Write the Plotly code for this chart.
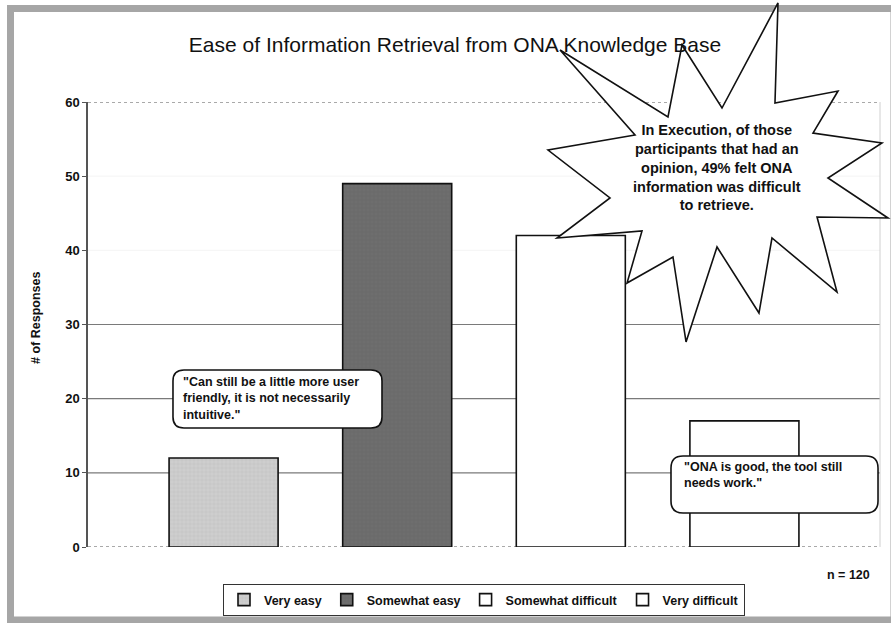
import plotly.graph_objects as go

# chart values
categories = ["Very easy", "Somewhat easy", "Somewhat difficult", "Very difficult"]
responses = [12, 49, 42, 17]
bar_colors = ["#cecece", "#6e6e6e", "#ffffff", "#ffffff"]
pattern_colors = ["#b4b4b4", "#5c5c5c", "#ffffff", "#ffffff"]
y_ticks = [0, 10, 20, 30, 40, 50, 60]
solid_grid = [10, 20, 30]
faint_grid = [40, 50]
dotted_lines = [0, 60]

title_text = "Ease of Information Retrieval from ONA Knowledge Base"
y_title = "# of Responses"
star_text = ("In Execution, of those<br>participants that had an<br>"
             "opinion, 49% felt ONA<br>information was difficult<br>to retrieve.")
quote_1 = "\"Can still be a little more user<br>friendly, it is not necessarily<br>intuitive.\""
quote_2 = "\"ONA is good, the tool still<br>needs work.\""
sample_note = "n = 120"

W, H = 891, 623
L, R, T, B = 88, 880, 102, 547  # plot area edges in pixels
FONT = "Arial, Liberation Sans, sans-serif"


def px(x):
    return (x - L) / (R - L)


def py(y):
    return (B - y) / (B - T)


def poly_path(points):
    parts = [f"{px(x):.4f},{py(y):.4f}" for x, y in points]
    return "M " + " L ".join(parts) + " Z"


def rounded_box(x0, y0, x1, y1, r):
    p = lambda x, y: f"{px(x):.4f},{py(y):.4f}"
    return (f"M {p(x0 + r, y0)} L {p(x1 - r, y0)} Q {p(x1, y0)} {p(x1, y0 + r)} "
            f"L {p(x1, y1 - r)} Q {p(x1, y1)} {p(x1 - r, y1)} "
            f"L {p(x0 + r, y1)} Q {p(x0, y1)} {p(x0, y1 - r)} "
            f"L {p(x0, y0 + r)} Q {p(x0, y0)} {p(x0 + r, y0)} Z")


# explosion callout outline (pixels)
star = [(778, 3), (775, 103), (838, 91), (813, 133), (882, 143), (828, 178),
        (888, 218), (817, 217), (837, 292), (772, 238), (759, 313), (717, 247),
        (686, 342), (673, 257), (627, 283), (642, 231), (557, 238), (610, 198),
        (548, 150), (635, 135), (560, 50), (668, 117), (682, 45), (722, 108)]

fig = go.Figure()
for i, (name, val) in enumerate(zip(categories, responses)):
    fig.add_trace(go.Bar(
        x=[i], y=[val], name=name, width=0.628,
        marker=dict(color=bar_colors[i],
                    line=dict(color="#111111", width=1.6),
                    pattern=dict(shape="+" if i < 2 else "", fgcolor=pattern_colors[i],
                                 bgcolor=bar_colors[i], size=4, solidity=0.25)),
    ))

shapes = []
# outer gray frame of the slide
shapes.append(dict(type="rect", xref="paper", yref="paper",
                   x0=px(10.5), x1=px(894), y0=py(8.5), y1=py(620),
                   line=dict(color="#a6a6a6", width=7), layer="below"))
for g in solid_grid:
    shapes.append(dict(type="line", xref="paper", yref="y", x0=0, x1=1, y0=g, y1=g,
                       line=dict(color="#7a7a7a", width=1.2), layer="below"))
for g in faint_grid:
    shapes.append(dict(type="line", xref="paper", yref="y", x0=0, x1=1, y0=g, y1=g,
                       line=dict(color="#f4f4f4", width=1), layer="below"))
for g in dotted_lines:
    shapes.append(dict(type="line", xref="paper", yref="y", x0=0, x1=1, y0=g, y1=g,
                       line=dict(color="#555555", width=1.2, dash="dot"), layer="below"))
shapes.append(dict(type="line", xref="paper", yref="paper", x0=1, x1=1, y0=0, y1=1,
                   line=dict(color="#d0d0d0", width=1), layer="below"))
# callouts on top of the bars
shapes.append(dict(type="path", xref="paper", yref="paper", path=poly_path(star),
                   fillcolor="white", line=dict(color="#111111", width=1.6)))
shapes.append(dict(type="path", xref="paper", yref="paper",
                   path=rounded_box(173, 370, 382, 428, 11),
                   fillcolor="white", line=dict(color="#111111", width=1.6)))
shapes.append(dict(type="path", xref="paper", yref="paper",
                   path=rounded_box(671, 456, 878, 513, 12),
                   fillcolor="white", line=dict(color="#111111", width=1.6)))

annotations = [
    dict(text=star_text, x=px(717), y=py(167), xref="paper", yref="paper",
         showarrow=False, align="center", xanchor="center", yanchor="middle",
         font=dict(family=FONT, size=14.5, color="#111111", weight="bold")),
    dict(text=quote_1, x=px(181), y=py(398), xref="paper", yref="paper",
         showarrow=False, align="left", xanchor="left", yanchor="middle",
         font=dict(family=FONT, size=12.5, color="#111111", weight="bold")),
    dict(text=quote_2, x=px(682), y=py(475), xref="paper", yref="paper",
         showarrow=False, align="left", xanchor="left", yanchor="middle",
         font=dict(family=FONT, size=12.5, color="#111111", weight="bold")),
    dict(text=sample_note, x=px(872), y=py(575), xref="paper", yref="paper",
         showarrow=False, xanchor="right", yanchor="middle",
         font=dict(family=FONT, size=12.5, color="#111111", weight="bold")),
    dict(text=y_title, x=px(36), y=py(318), xref="paper", yref="paper",
         showarrow=False, textangle=-90, xanchor="center", yanchor="middle",
         font=dict(family=FONT, size=12.5, color="#111111", weight="bold")),
]

fig.update_layout(
    width=W, height=H,
    margin=dict(l=L, r=W - R, t=T, b=H - B, pad=0, autoexpand=False),
    paper_bgcolor="white", plot_bgcolor="white",
    barmode="overlay",
    title=dict(text=title_text, x=455 / W, xref="container", xanchor="center",
               y=1 - 45 / H, yanchor="middle",
               font=dict(family=FONT, size=21, color="#111111")),
    legend=dict(orientation="h", x=0.5, xanchor="center", y=py(600), yanchor="middle",
                bordercolor="#333333", borderwidth=1, itemwidth=30,
                font=dict(family=FONT, size=12.5, color="#111111", weight="bold"),
                traceorder="normal"),
    shapes=shapes,
    annotations=annotations,
)
fig.update_xaxes(range=[-0.781, 3.781], showticklabels=False, showgrid=False,
                 zeroline=False, showline=False)
fig.update_yaxes(range=[0, 60], tickvals=y_ticks, showgrid=False, zeroline=False,
                 showline=True, linecolor="#555555", linewidth=1.5,
                 ticks="outside", ticklen=4, tickcolor="#555555",
                 tickfont=dict(family=FONT, size=13, color="#111111", weight="bold"))

# the page body has a default 8px margin; drop it so the figure sits at 0,0
fig.write_html("out.html", config={"displayModeBar": False},
               post_script="document.body.style.margin = '0';")
